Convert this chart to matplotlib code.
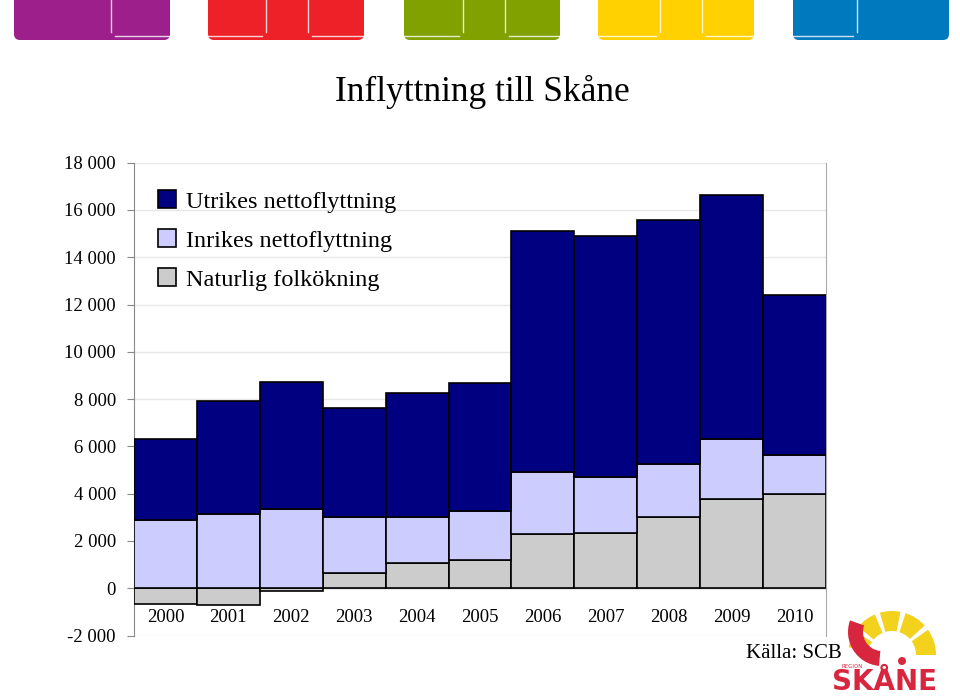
import matplotlib
matplotlib.use('Agg')
import matplotlib.pyplot as plt
from matplotlib.patches import FancyBboxPatch, Wedge, Circle
import numpy as np

years = ['2000', '2001', '2002', '2003', '2004', '2005', '2006', '2007', '2008', '2009', '2010']
naturlig = [-650, -700, -110, 650, 1050, 1200, 2310, 2350, 3015, 3780, 3980]
inrikes = [2875, 3120, 3355, 2365, 1965, 2060, 2620, 2340, 2225, 2520, 1670]
utrikes = [3440, 4810, 5380, 4615, 5245, 5430, 10160, 10230, 10320, 10320, 6750]
yticks = [-2000, 0, 2000, 4000, 6000, 8000, 10000, 12000, 14000, 16000, 18000]

plt.rcParams['font.family'] = ['Liberation Serif', 'DejaVu Serif']

fig = plt.figure(figsize=(9.6, 6.98), dpi=100)

# background layer in pixel coordinates for header tabs and logo
bg = fig.add_axes([0, 0, 1, 1])
bg.set_xlim(0, 960)
bg.set_ylim(698, 0)
bg.axis('off')

tabs = [(14, '#9C1F8B'), (208, '#EE2128'), (404, '#80A100'), (598, '#FFD100'), (793, '#0079BF')]
for x0, col in tabs:
    bg.add_patch(FancyBboxPatch((x0, -10), 156, 50, boxstyle='round,pad=0,rounding_size=6',
                                fc=col, ec='none'))

# white inner lines on tabs
def corner(xv, left, right):
    if right:
        bg.plot([xv, xv], [0, 32], color='white', lw=1, alpha=0.8)
        bg.plot([xv + 4, right], [36, 36], color='white', lw=1, alpha=0.8)
    if left:
        bg.plot([xv, xv], [0, 32], color='white', lw=1, alpha=0.8)
        bg.plot([left, xv - 4], [36, 36], color='white', lw=1, alpha=0.8)

corner(111, None, 170)
corner(266, 208, None)
corner(308, None, 364)
corner(463, 404, None)
corner(505, None, 560)
corner(660, 598, None)
corner(702, None, 754)
corner(857, 793, None)

# logo
for a1, a2 in [(0, 35), (42, 72), (79, 106), (113, 140), (147, 170)]:
    bg.add_patch(Wedge((892, 655), 44, -a2, -a1, width=20, fc='#F2D21C', ec='none'))
bg.add_patch(Wedge((882, 632), 34, 95, 200, width=15, fc='#D7263D', ec='none'))
bg.add_patch(Circle((902, 661), 4, fc='#D7263D', ec='none'))
bg.text(884, 682, 'SKÅNE', color='#D7263D', fontsize=20, fontweight='bold',
        family='DejaVu Sans', ha='center', va='center')
bg.text(842, 666, 'REGION', color='#D7263D', fontsize=4, family='DejaVu Sans',
        ha='left', va='center')

ax = fig.add_axes([134 / 960, 1 - 635.5 / 698, 692 / 960, (635.5 - 162.7) / 698])
x = np.arange(len(years))
nat = np.array(naturlig)
base_pos = np.where(nat > 0, nat, 0)
ax.bar(x, naturlig, width=1, color='#CCCCCC', edgecolor='black', lw=1.2,
       label='Naturlig folkökning', zorder=3)
ax.bar(x, inrikes, bottom=base_pos, width=1, color='#CCCCFF', edgecolor='black', lw=1.2,
       label='Inrikes nettoflyttning', zorder=3)
ax.bar(x, utrikes, bottom=base_pos + np.array(inrikes), width=1, color='#000080',
       edgecolor='black', lw=1.2, label='Utrikes nettoflyttning', zorder=3)

ax.set_xlim(-0.5, len(years) - 0.5)
ax.set_ylim(-2000, 18000)
ax.set_yticks(yticks)
ax.set_yticklabels([f'{v:,}'.replace(',', ' ') for v in yticks], fontsize=13.5)
ax.tick_params(axis='y', length=5, color='#888888', pad=8)
ax.set_xticks([])
ax.grid(axis='y', color='#E8E8E8', lw=1, zorder=0)
ax.axhline(0, color='#999999', lw=1, zorder=2)
for s in ['left', 'right', 'top', 'bottom']:
    ax.spines[s].set_color('#AAAAAA')
ax.spines['left'].set_color('#888888')
ax.spines['bottom'].set_visible(False)
ax.spines['top'].set_visible(False)

for i, y in enumerate(years):
    ax.text(i, -1250, y, ha='center', va='center', fontsize=13.5)

h, l = ax.get_legend_handles_labels()
ax.legend(h[::-1], l[::-1], loc='upper left', bbox_to_anchor=(0.02, 0.962), frameon=False,
          fontsize=17.5, handlelength=0.75, handleheight=0.75, labelspacing=0.68,
          handletextpad=0.4, borderaxespad=0)

fig.text(0.502, 1 - 92 / 698, 'Inflyttning till Skåne', ha='center', va='center', fontsize=25.5)
fig.text(842 / 960, 1 - 654 / 698, 'Källa: SCB', ha='right', va='center', fontsize=15)

fig.savefig('out.png', dpi=100)
